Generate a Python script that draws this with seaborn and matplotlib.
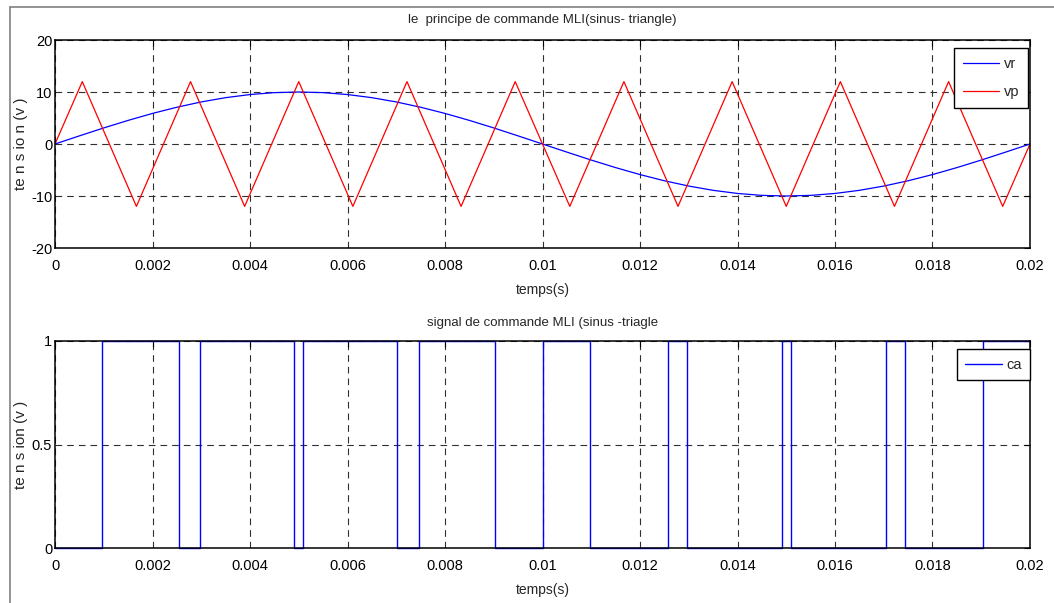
import matplotlib
matplotlib.use("Agg")
import matplotlib.pyplot as plt
from matplotlib.lines import Line2D
import seaborn as sns
import pandas as pd

# ---------------- data ----------------
# reference sine vr (read at 0.0005 s steps)
vr_t = [i * 0.0005 for i in range(41)]
vr_v = [0, 1.56, 3.09, 4.54, 5.88, 7.07, 8.09, 8.91, 9.51, 9.88, 10,
        9.88, 9.51, 8.91, 8.09, 7.07, 5.88, 4.54, 3.09, 1.56, 0,
        -1.56, -3.09, -4.54, -5.88, -7.07, -8.09, -8.91, -9.51, -9.88, -10,
        -9.88, -9.51, -8.91, -8.09, -7.07, -5.88, -4.54, -3.09, -1.56, 0]
# carrier triangle vp (vertices)
vp_t = [0, 0.00056, 0.00167, 0.00278, 0.00389, 0.0050, 0.00611, 0.00722,
        0.00833, 0.00944, 0.01056, 0.01167, 0.01278, 0.01389, 0.0150,
        0.01611, 0.01722, 0.01833, 0.01944, 0.02]
vp_v = [0, 12, -12, 12, -12, 12, -12, 12, -12, 12, -12, 12, -12, 12, -12,
        12, -12, 12, -12, 0]
# command signal ca (switching instants)
ca_t = [0, 0.00096, 0.00254, 0.00297, 0.00490, 0.00509, 0.00702, 0.00746,
        0.00903, 0.01001, 0.01097, 0.01257, 0.01296, 0.01491, 0.01510,
        0.01705, 0.01744, 0.01904, 0.02]
ca_v = [0, 1, 0, 1, 0, 1, 0, 1, 0, 1, 0, 1, 0, 1, 0, 1, 0, 1, 1]

xticks = [0, 0.002, 0.004, 0.006, 0.008, 0.01, 0.012, 0.014, 0.016, 0.018, 0.02]
xticklabels = ["0", "0.002", "0.004", "0.006", "0.008", "0.01", "0.012",
               "0.014", "0.016", "0.018", "0.02"]
yticks1 = [-20, -10, 0, 10, 20]
yticks2 = [0, 0.5, 1]
yticklabels2 = ["0", "0.5", "1"]

# ---------------- style ----------------
sns.set_style("white")
plt.rcParams["font.family"] = ["Liberation Sans", "DejaVu Sans"]
plt.rcParams["axes.linewidth"] = 1.1
plt.rcParams["xtick.direction"] = "in"
plt.rcParams["ytick.direction"] = "in"

fig = plt.figure(figsize=(10.54, 6.03), dpi=100)
fig.patch.set_facecolor("white")

ax1 = fig.add_axes([55 / 1054, 1 - 248 / 603, 975 / 1054, 208 / 603])
ax2 = fig.add_axes([55 / 1054, 1 - 548 / 603, 975 / 1054, 207 / 603])

df_vr = pd.DataFrame({"t": vr_t, "v": vr_v})
df_vp = pd.DataFrame({"t": vp_t, "v": vp_v})
df_ca = pd.DataFrame({"t": ca_t, "v": ca_v})

sns.lineplot(data=df_vr, x="t", y="v", ax=ax1, color="#0000ff", lw=0.9,
             estimator=None, label="vr")
sns.lineplot(data=df_vp, x="t", y="v", ax=ax1, color="#ff0000", lw=0.9,
             estimator=None, label="vp")
sns.lineplot(data=df_ca, x="t", y="v", ax=ax2, color="#0000ff", lw=1.0,
             estimator=None, label="ca", drawstyle="steps-post", clip_on=False)

grid_kw = dict(color="#303030", linestyle=(0, (6, 4.5)), linewidth=0.8)
for ax in (ax1, ax2):
    ax.set_xlim(0, 0.02)
    ax.set_xticks(xticks)
    ax.set_xticklabels(xticklabels)
    ax.grid(True, **grid_kw)
    ax.set_axisbelow(True)
    for s in ax.spines.values():
        s.set_color("black")
        s.set_visible(True)
    ax.tick_params(axis="both", which="both", direction="in", length=4,
                   width=0.8, top=True, right=True, labelsize=10.5,
                   colors="black")
    ax.tick_params(axis="x", pad=8)
    ax.tick_params(axis="y", pad=2)
    ax.set_xlabel("temps(s)", fontsize=10, labelpad=7)

ax1.set_ylim(-20, 20)
ax1.set_yticks(yticks1)
ax1.set_yticklabels([str(v) for v in yticks1])
ax2.set_ylim(0, 1)
ax2.set_yticks(yticks2)
ax2.set_yticklabels(yticklabels2)

ax1.set_ylabel("te n s io n (v )", fontsize=11, labelpad=1)
ax2.set_ylabel("te n s ion (v )", fontsize=11, labelpad=1)
ax1.yaxis.set_label_coords(-27 / 975, 0.5)
ax2.yaxis.set_label_coords(-27 / 975, 0.5)
ax1.set_title("le  principe de commande MLI(sinus- triangle)", fontsize=9.5, pad=12)
ax2.set_title("signal de commande MLI (sinus -triagle", fontsize=9.5, pad=11)

leg_kw = dict(frameon=True, fancybox=False, framealpha=1, edgecolor="black",
              fontsize=10.5, handlelength=2.5, handletextpad=0.3,
              borderpad=0.6, labelspacing=1.0, borderaxespad=0.0)
l1 = ax1.legend(loc="upper right", bbox_to_anchor=(0.998, 0.962), **leg_kw)
l2 = ax2.legend(loc="upper right", bbox_to_anchor=(1.0005, 0.962), **leg_kw)
for lg in (l1, l2):
    lg.get_frame().set_linewidth(1.0)

# gray frame at left and top
fig.add_artist(Line2D([10 / 1054, 10 / 1054], [0, 1 - 7 / 603], color="#808080", lw=1.2,
                      transform=fig.transFigure))
fig.add_artist(Line2D([10 / 1054, 1], [1 - 7 / 603, 1 - 7 / 603], color="#808080", lw=1.2,
                      transform=fig.transFigure))

fig.savefig("out.png", dpi=100)
